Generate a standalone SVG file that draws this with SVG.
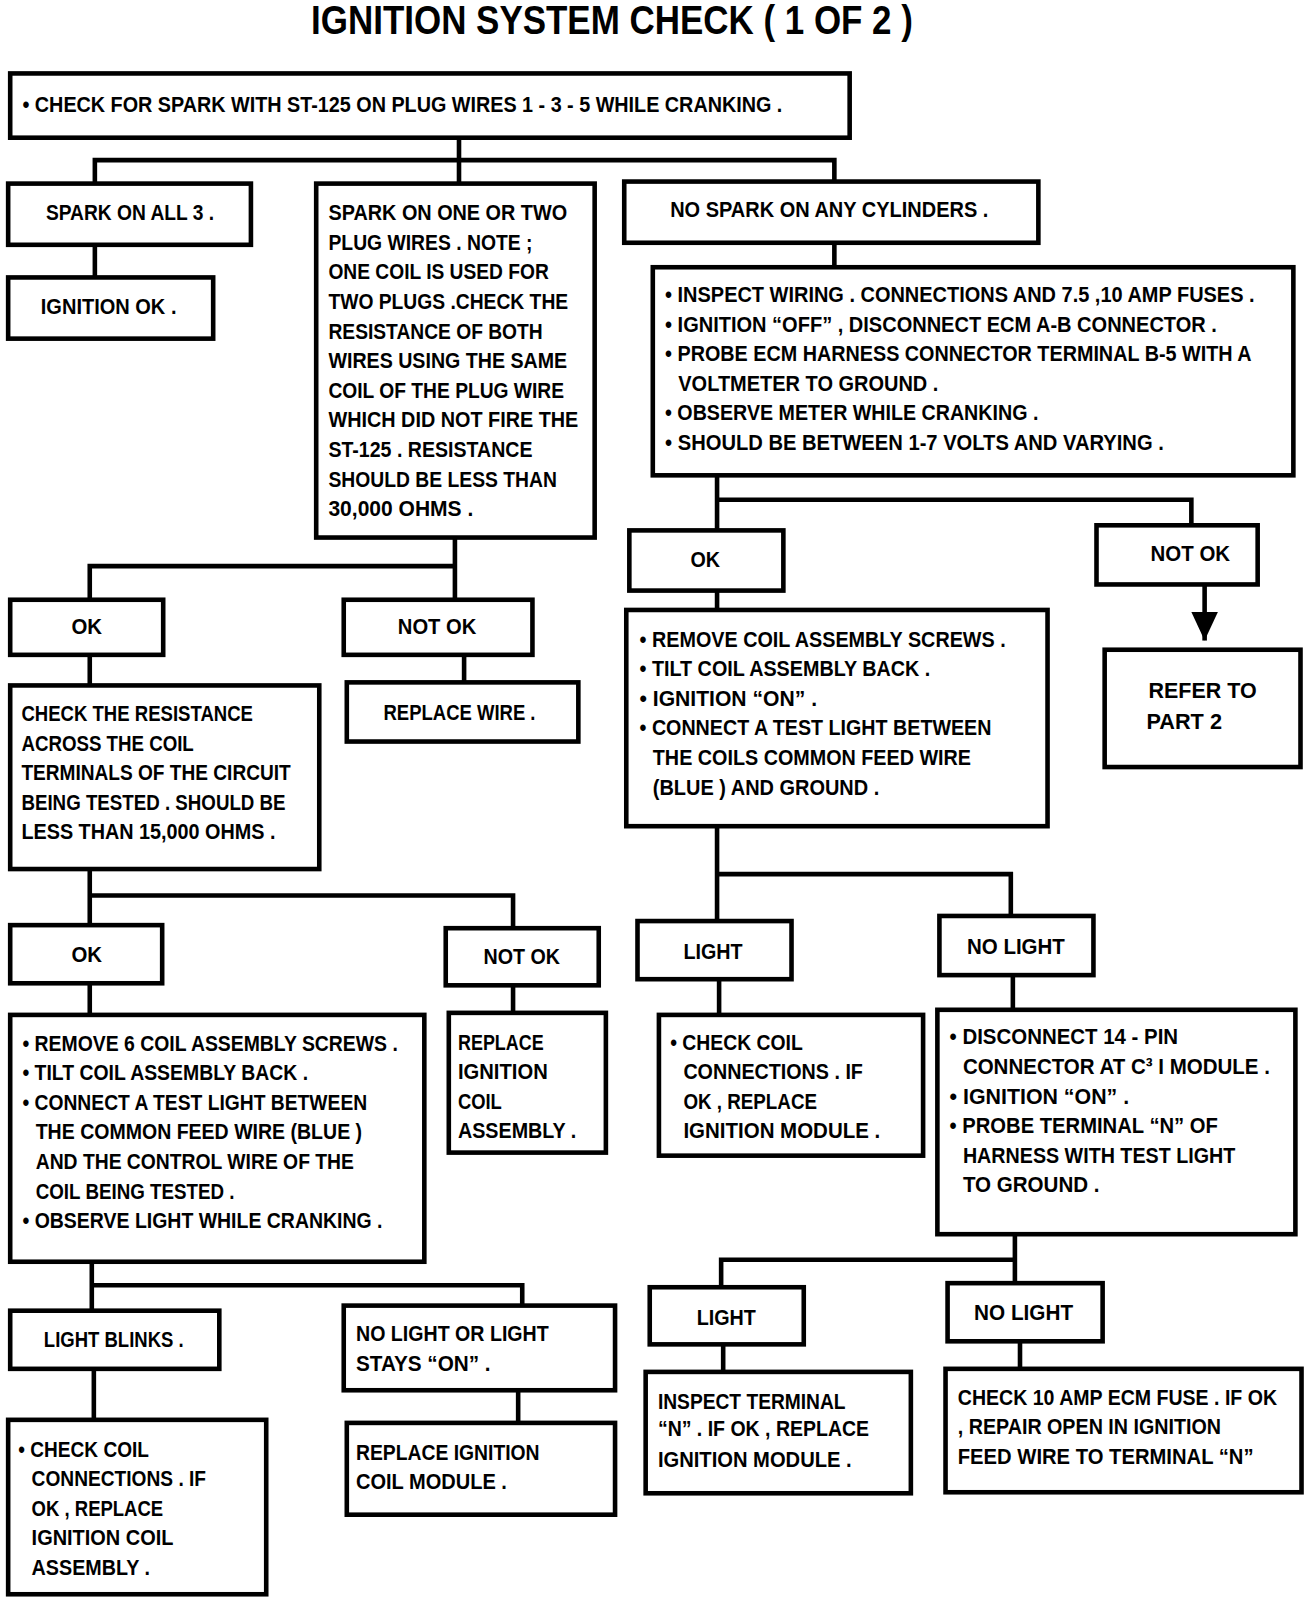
<svg xmlns="http://www.w3.org/2000/svg" width="1312" height="1598" viewBox="0 0 1312 1598">
<style>
.b{fill:#fff;stroke:#000;stroke-width:4.5}
.c{fill:none;stroke:#000;stroke-width:4.5}
text{font-family:"Liberation Sans",Arial,sans-serif;font-weight:bold;font-size:22px;fill:#000}
.t{font-size:39px}
</style>
<defs>
<marker id="arr" markerUnits="userSpaceOnUse" markerWidth="28" markerHeight="26" refX="28" refY="13" orient="auto"><path d="M0,0 L28,13 L0,26 z" fill="#000"/></marker>
</defs>
<rect width="1312" height="1598" fill="#fff"/>
<g transform="scale(1.02)">
<text class="t" x="305" y="33" textLength="590" lengthAdjust="spacingAndGlyphs">IGNITION SYSTEM CHECK  ( 1 OF 2 )</text>
<g id="connectors">
<path class="c" d="M450,135 V180 M93,180 V157 H818 V178"/>
<path class="c" d="M93,240 V272"/>
<path class="c" d="M818,238 V262"/>
<path class="c" d="M446,527 V588 M88,588 V555 H446"/>
<path class="c" d="M455,642 V669"/>
<path class="c" d="M88,642 V672"/>
<path class="c" d="M88,852 V907 M88,878 H503 V910"/>
<path class="c" d="M503,966 V993"/>
<path class="c" d="M88,964 V995"/>
<path class="c" d="M90,1237 V1285 M90,1260 H512 V1280"/>
<path class="c" d="M92,1342 V1392"/>
<path class="c" d="M508,1363 V1395"/>
<path class="c" d="M703,466 V520 M703,490 H1168 V515"/>
<path class="c" d="M1181,573 V628" marker-end="url(#arr)"/>
<path class="c" d="M703,579 V598"/>
<path class="c" d="M703,810 V903 M703,857 H991 V898"/>
<path class="c" d="M705,960 V995"/>
<path class="c" d="M993,956 V990"/>
<path class="c" d="M995,1210 V1258 M995,1235 H707 V1262"/>
<path class="c" d="M709,1318 V1345"/>
<path class="c" d="M1000,1315 V1342"/>
</g>
<g id="n_top"><rect class="b" x="10" y="72" width="823" height="63"/>
<text x="22" y="110" textLength="745" lengthAdjust="spacingAndGlyphs">• CHECK FOR SPARK WITH ST-125 ON PLUG WIRES 1 - 3 - 5  WHILE CRANKING .</text></g>
<g id="n_all3"><rect class="b" x="8" y="180" width="238" height="60"/>
<text x="45" y="216" textLength="165" lengthAdjust="spacingAndGlyphs">SPARK ON ALL 3 .</text></g>
<g id="n_ignok"><rect class="b" x="8" y="272" width="201" height="60"/>
<text x="40" y="308" textLength="133" lengthAdjust="spacingAndGlyphs">IGNITION OK .</text></g>
<g id="n_onetwo"><rect class="b" x="310" y="180" width="273" height="347"/>
<text x="322" y="216" textLength="234" lengthAdjust="spacingAndGlyphs">SPARK ON ONE OR TWO</text>
<text x="322" y="245" textLength="200" lengthAdjust="spacingAndGlyphs">PLUG WIRES . NOTE ;</text>
<text x="322" y="274" textLength="216" lengthAdjust="spacingAndGlyphs">ONE COIL IS USED FOR</text>
<text x="322" y="303" textLength="235" lengthAdjust="spacingAndGlyphs">TWO PLUGS .CHECK THE</text>
<text x="322" y="332" textLength="210" lengthAdjust="spacingAndGlyphs">RESISTANCE OF BOTH</text>
<text x="322" y="361" textLength="234" lengthAdjust="spacingAndGlyphs">WIRES USING THE SAME</text>
<text x="322" y="390" textLength="231" lengthAdjust="spacingAndGlyphs">COIL OF THE PLUG WIRE</text>
<text x="322" y="419" textLength="245" lengthAdjust="spacingAndGlyphs">WHICH DID NOT FIRE THE</text>
<text x="322" y="448" textLength="200" lengthAdjust="spacingAndGlyphs">ST-125 . RESISTANCE</text>
<text x="322" y="477" textLength="224" lengthAdjust="spacingAndGlyphs">SHOULD BE LESS THAN</text>
<text x="322" y="506" textLength="142" lengthAdjust="spacingAndGlyphs">30,000 OHMS .</text></g>
<g id="n_nospark"><rect class="b" x="612" y="178" width="406" height="60"/>
<text x="657" y="213" textLength="312" lengthAdjust="spacingAndGlyphs">NO SPARK ON ANY CYLINDERS .</text></g>
<g id="n_inspect"><rect class="b" x="640" y="262" width="628" height="204"/>
<text x="652" y="296" textLength="578" lengthAdjust="spacingAndGlyphs">• INSPECT WIRING . CONNECTIONS AND 7.5 ,10 AMP FUSES .</text>
<text x="652" y="325" textLength="541" lengthAdjust="spacingAndGlyphs">• IGNITION “OFF” , DISCONNECT ECM A-B CONNECTOR .</text>
<text x="652" y="354" textLength="575" lengthAdjust="spacingAndGlyphs">• PROBE ECM HARNESS CONNECTOR TERMINAL B-5 WITH A</text>
<text x="665" y="383" textLength="255" lengthAdjust="spacingAndGlyphs">VOLTMETER TO GROUND .</text>
<text x="652" y="412" textLength="366" lengthAdjust="spacingAndGlyphs">• OBSERVE METER WHILE CRANKING .</text>
<text x="652" y="441" textLength="489" lengthAdjust="spacingAndGlyphs">• SHOULD BE BETWEEN 1-7 VOLTS AND VARYING .</text></g>
<g id="n_ok_r1"><rect class="b" x="617" y="520" width="151" height="59"/>
<text x="677" y="556" textLength="29" lengthAdjust="spacingAndGlyphs">OK</text></g>
<g id="n_notok_r1"><rect class="b" x="1075" y="515" width="158" height="58"/>
<text x="1128" y="550" textLength="78" lengthAdjust="spacingAndGlyphs">NOT OK</text></g>
<g id="n_refer"><rect class="b" x="1083" y="637" width="192" height="115"/>
<text x="1126" y="684" textLength="106" lengthAdjust="spacingAndGlyphs">REFER TO</text>
<text x="1124" y="715" textLength="74" lengthAdjust="spacingAndGlyphs">PART 2</text></g>
<g id="n_remove"><rect class="b" x="614" y="598" width="413" height="212"/>
<text x="627" y="634" textLength="359" lengthAdjust="spacingAndGlyphs">• REMOVE COIL ASSEMBLY SCREWS .</text>
<text x="627" y="663" textLength="285" lengthAdjust="spacingAndGlyphs">• TILT COIL ASSEMBLY BACK .</text>
<text x="627" y="692" textLength="174" lengthAdjust="spacingAndGlyphs">• IGNITION “ON” .</text>
<text x="627" y="721" textLength="345" lengthAdjust="spacingAndGlyphs">• CONNECT A TEST LIGHT BETWEEN</text>
<text x="640" y="750" textLength="312" lengthAdjust="spacingAndGlyphs">THE COILS COMMON FEED WIRE</text>
<text x="640" y="779" textLength="222" lengthAdjust="spacingAndGlyphs">(BLUE ) AND GROUND .</text></g>
<g id="n_light_r2"><rect class="b" x="625" y="903" width="151" height="57"/>
<text x="670" y="940" textLength="58" lengthAdjust="spacingAndGlyphs">LIGHT</text></g>
<g id="n_nolight_r2"><rect class="b" x="921" y="898" width="151" height="58"/>
<text x="948" y="935" textLength="96" lengthAdjust="spacingAndGlyphs">NO LIGHT</text></g>
<g id="n_checkcoil_r"><rect class="b" x="646" y="995" width="259" height="138"/>
<text x="657" y="1029" textLength="130" lengthAdjust="spacingAndGlyphs">• CHECK COIL</text>
<text x="670" y="1058" textLength="176" lengthAdjust="spacingAndGlyphs">CONNECTIONS . IF</text>
<text x="670" y="1087" textLength="131" lengthAdjust="spacingAndGlyphs">OK , REPLACE</text>
<text x="670" y="1116" textLength="193" lengthAdjust="spacingAndGlyphs">IGNITION MODULE .</text></g>
<g id="n_disconnect"><rect class="b" x="919" y="990" width="351" height="220"/>
<text x="931" y="1024" textLength="224" lengthAdjust="spacingAndGlyphs">• DISCONNECT 14 -  PIN</text>
<text x="944" y="1053" textLength="301" lengthAdjust="spacingAndGlyphs">CONNECTOR AT C³ I MODULE .</text>
<text x="931" y="1082" textLength="176" lengthAdjust="spacingAndGlyphs">• IGNITION “ON” .</text>
<text x="931" y="1111" textLength="263" lengthAdjust="spacingAndGlyphs">• PROBE TERMINAL “N” OF</text>
<text x="944" y="1140" textLength="267" lengthAdjust="spacingAndGlyphs">HARNESS WITH TEST LIGHT</text>
<text x="944" y="1169" textLength="134" lengthAdjust="spacingAndGlyphs">TO GROUND .</text></g>
<g id="n_light_r3"><rect class="b" x="637" y="1262" width="151" height="56"/>
<text x="683" y="1299" textLength="58" lengthAdjust="spacingAndGlyphs">LIGHT</text></g>
<g id="n_nolight_r3"><rect class="b" x="929" y="1258" width="152" height="57"/>
<text x="955" y="1294" textLength="97" lengthAdjust="spacingAndGlyphs">NO LIGHT</text></g>
<g id="n_inspect_term"><rect class="b" x="633" y="1345" width="260" height="119"/>
<text x="645" y="1381" textLength="184" lengthAdjust="spacingAndGlyphs">INSPECT TERMINAL</text>
<text x="645" y="1408" textLength="207" lengthAdjust="spacingAndGlyphs"> “N” . IF OK , REPLACE</text>
<text x="645" y="1438" textLength="190" lengthAdjust="spacingAndGlyphs">IGNITION MODULE .</text></g>
<g id="n_check10"><rect class="b" x="927" y="1342" width="349" height="121"/>
<text x="939" y="1377" textLength="313" lengthAdjust="spacingAndGlyphs">CHECK 10 AMP ECM FUSE . IF OK</text>
<text x="939" y="1406" textLength="258" lengthAdjust="spacingAndGlyphs">, REPAIR OPEN IN IGNITION</text>
<text x="939" y="1435" textLength="290" lengthAdjust="spacingAndGlyphs">FEED WIRE TO TERMINAL  “N”</text></g>
<g id="n_ok_l1"><rect class="b" x="10" y="588" width="150" height="54"/>
<text x="70" y="622" textLength="30" lengthAdjust="spacingAndGlyphs">OK</text></g>
<g id="n_notok_l1"><rect class="b" x="337" y="588" width="185" height="54"/>
<text x="390" y="622" textLength="77" lengthAdjust="spacingAndGlyphs">NOT OK</text></g>
<g id="n_replacewire"><rect class="b" x="340" y="669" width="227" height="58"/>
<text x="376" y="706" textLength="149" lengthAdjust="spacingAndGlyphs">REPLACE WIRE .</text></g>
<g id="n_checkres"><rect class="b" x="10" y="672" width="303" height="180"/>
<text x="21" y="707" textLength="227" lengthAdjust="spacingAndGlyphs">CHECK THE RESISTANCE</text>
<text x="21" y="736" textLength="169" lengthAdjust="spacingAndGlyphs">ACROSS THE COIL</text>
<text x="21" y="765" textLength="264" lengthAdjust="spacingAndGlyphs">TERMINALS OF THE CIRCUIT</text>
<text x="21" y="794" textLength="259" lengthAdjust="spacingAndGlyphs">BEING TESTED . SHOULD BE</text>
<text x="21" y="823" textLength="249" lengthAdjust="spacingAndGlyphs">LESS THAN 15,000 OHMS .</text></g>
<g id="n_ok_l2"><rect class="b" x="10" y="907" width="149" height="57"/>
<text x="70" y="943" textLength="30" lengthAdjust="spacingAndGlyphs">OK</text></g>
<g id="n_notok_l2"><rect class="b" x="437" y="910" width="150" height="56"/>
<text x="474" y="945" textLength="75" lengthAdjust="spacingAndGlyphs">NOT OK</text></g>
<g id="n_replace_asm"><rect class="b" x="440" y="993" width="154" height="137"/>
<text x="449" y="1029" textLength="84" lengthAdjust="spacingAndGlyphs">REPLACE</text>
<text x="449" y="1058" textLength="88" lengthAdjust="spacingAndGlyphs">IGNITION</text>
<text x="449" y="1087" textLength="43" lengthAdjust="spacingAndGlyphs">COIL</text>
<text x="449" y="1116" textLength="116" lengthAdjust="spacingAndGlyphs">ASSEMBLY .</text></g>
<g id="n_remove6"><rect class="b" x="10" y="995" width="406" height="242"/>
<text x="22" y="1030" textLength="368" lengthAdjust="spacingAndGlyphs">• REMOVE 6 COIL ASSEMBLY SCREWS .</text>
<text x="22" y="1059" textLength="280" lengthAdjust="spacingAndGlyphs">• TILT COIL ASSEMBLY BACK .</text>
<text x="22" y="1088" textLength="338" lengthAdjust="spacingAndGlyphs">• CONNECT A TEST LIGHT BETWEEN</text>
<text x="35" y="1117" textLength="320" lengthAdjust="spacingAndGlyphs">THE COMMON FEED WIRE (BLUE )</text>
<text x="35" y="1146" textLength="312" lengthAdjust="spacingAndGlyphs">AND THE CONTROL WIRE OF THE</text>
<text x="35" y="1175" textLength="195" lengthAdjust="spacingAndGlyphs">COIL BEING TESTED .</text>
<text x="22" y="1204" textLength="353" lengthAdjust="spacingAndGlyphs">• OBSERVE LIGHT WHILE CRANKING .</text></g>
<g id="n_blinks"><rect class="b" x="10" y="1285" width="205" height="57"/>
<text x="43" y="1321" textLength="137" lengthAdjust="spacingAndGlyphs">LIGHT BLINKS .</text></g>
<g id="n_stayson"><rect class="b" x="337" y="1280" width="266" height="83"/>
<text x="349" y="1315" textLength="189" lengthAdjust="spacingAndGlyphs">NO LIGHT OR LIGHT</text>
<text x="349" y="1344" textLength="132" lengthAdjust="spacingAndGlyphs">STAYS “ON” .</text></g>
<g id="n_checkcoil_l"><rect class="b" x="8" y="1392" width="253" height="171"/>
<text x="18" y="1428" textLength="128" lengthAdjust="spacingAndGlyphs">• CHECK COIL</text>
<text x="31" y="1457" textLength="171" lengthAdjust="spacingAndGlyphs">CONNECTIONS . IF</text>
<text x="31" y="1486" textLength="129" lengthAdjust="spacingAndGlyphs">OK , REPLACE</text>
<text x="31" y="1515" textLength="139" lengthAdjust="spacingAndGlyphs">IGNITION COIL</text>
<text x="31" y="1544" textLength="116" lengthAdjust="spacingAndGlyphs">ASSEMBLY .</text></g>
<g id="n_replace_mod"><rect class="b" x="340" y="1395" width="263" height="90"/>
<text x="349" y="1431" textLength="180" lengthAdjust="spacingAndGlyphs">REPLACE IGNITION</text>
<text x="349" y="1460" textLength="148" lengthAdjust="spacingAndGlyphs">COIL MODULE .</text></g>
</g>
</svg>
